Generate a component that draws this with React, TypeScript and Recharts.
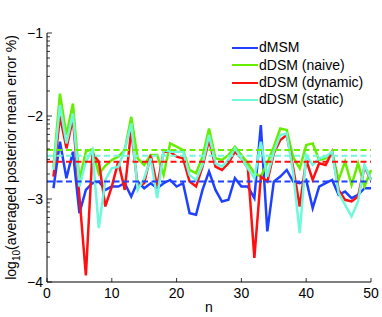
import { LineChart, Line, XAxis, YAxis, ReferenceLine } from "recharts";

const nValues = [
  1, 2, 3, 4, 5, 6, 7, 8, 9, 10, 11, 12, 13, 14, 15, 16, 17, 18, 19, 20, 21, 22, 23, 24, 25,
  26, 27, 28, 29, 30, 31, 32, 33, 34, 35, 36, 37, 38, 39, 40, 41, 42, 43, 44, 45, 46, 47, 48, 49, 50,
];

const dMSM = [
  -2.87, -2.31, -2.75, -2.43, -3.17, -2.89, -2.81, -2.79, -2.89, -2.85,
  -2.85, -2.81, -2.97, -2.79, -2.87, -2.81, -2.87, -2.81, -2.77, -2.85,
  -2.81, -3.17, -3.19, -2.89, -2.67, -2.89, -3.03, -3.01, -2.75, -2.85,
  -2.85, -2.99, -2.11, -3.39, -2.79, -2.73, -2.65, -2.79, -2.81, -2.77,
  -3.11, -2.85, -2.81, -2.77, -2.95, -2.91, -2.99, -2.95, -2.87, -2.87,
];

const dDSMNaive = [
  -2.62, -1.73, -2.23, -1.85, -2.77, -2.43, -2.4, -2.7, -2.6, -2.53,
  -2.49, -2.41, -2.01, -2.51, -2.59, -2.47, -2.47, -2.71, -2.33, -2.37,
  -2.41, -2.65, -2.69, -2.49, -2.15, -2.51, -2.53, -2.47, -2.37, -2.47,
  -2.57, -2.69, -2.73, -2.57, -2.37, -2.15, -2.17, -2.5, -2.63, -2.35,
  -2.33, -2.53, -2.51, -2.43, -2.77, -2.55, -2.83, -2.57, -2.85, -2.65,
];

const dDSMDynamic = [
  -2.73, -2.0, -2.39, -2.03, -2.97, -3.92, -2.45, -2.55, -3.09, -2.85,
  -2.55, -2.89, -2.17, -2.85, -2.81, -2.47, -2.85, -2.43, -2.43, -2.49,
  -2.51, -2.79, -2.85, -2.61, -2.29, -2.61, -2.65, -2.57, -2.43, -2.51,
  -2.63, -3.71, -2.73, -2.79, -2.45, -2.29, -2.23, -2.63, -3.09, -2.53,
  -2.77, -2.57, -2.59, -2.43, -2.89, -3.01, -3.03, -2.97, -2.61, -2.77,
];

const dDSMStatic = [
  -2.65, -1.87, -2.33, -1.97, -2.85, -2.55, -2.41, -3.35, -2.77, -2.63,
  -2.61, -2.41, -2.09, -2.89, -2.75, -2.51, -2.99, -2.41, -2.43, -2.43,
  -2.43, -2.71, -2.77, -2.59, -2.23, -2.57, -2.61, -2.53, -2.39, -2.51,
  -2.63, -2.75, -2.31, -2.73, -2.43, -2.23, -2.21, -2.69, -3.41, -2.47,
  -2.59, -2.51, -2.49, -2.43, -2.93, -3.07, -3.21, -3.03, -2.59, -2.77,
];

const seriesKeys = ["dMSM", "naive", "dynamic", "static"];
const seriesNames = ["dMSM", "dDSM (naive)", "dDSM (dynamic)", "dDSM (static)"];
const meanValues = [-2.79, -2.41, -2.55, -2.48];

const xTicks = [0, 10, 20, 30, 40, 50];
const yMajorTicks = [-4, -3, -2, -1];

const colors = ["#2040ff", "#66ee00", "#ff1010", "#70f8dc"];
const font = "'Liberation Sans', Arial, Helvetica, sans-serif";

// minor ticks of the log axis, one decade at a time
const yMinorTicks = [-4, -3, -2].flatMap((d) =>
  [2, 3, 4, 5, 6, 7, 8, 9].map((k) => d + Math.log10(k))
);
const yTicks = [...yMajorTicks, ...yMinorTicks];

const data = nValues.map((n, i) => ({
  n,
  dMSM: dMSM[i],
  naive: dDSMNaive[i],
  dynamic: dDSMDynamic[i],
  static: dDSMStatic[i],
}));

const fmt = (v: number) => (v < 0 ? "\u2212" + Math.abs(v) : String(v));

function LeftTick(props: any) {
  const { x, y, payload } = props;
  const major = Number.isInteger(payload.value);
  return (
    <g>
      <line x1={x} x2={x + (major ? 5 : 3)} y1={y} y2={y} stroke="#000" strokeWidth={0.8} />
      {major && (
        <text x={x - 4} y={y + 5} textAnchor="end" fontSize={14} fontFamily={font} fill="#000">
          {fmt(payload.value)}
        </text>
      )}
    </g>
  );
}

function RightTick(props: any) {
  const { x, y, payload } = props;
  const major = Number.isInteger(payload.value);
  return <line x1={x} x2={x - (major ? 5 : 3)} y1={y} y2={y} stroke="#000" strokeWidth={0.8} />;
}

function BottomTick(props: any) {
  const { x, y, payload } = props;
  return (
    <g>
      <line x1={x} x2={x} y1={y} y2={y - 4} stroke="#000" strokeWidth={0.8} />
      <text x={x} y={y + 16} textAnchor="middle" fontSize={14} fontFamily={font} fill="#000">
        {payload.value}
      </text>
    </g>
  );
}

function TopTick(props: any) {
  const { x, y } = props;
  return <line x1={x} x2={x} y1={y} y2={y + 4} stroke="#000" strokeWidth={0.8} />;
}

function ChartLegend() {
  return (
    <div
      style={{
        position: "absolute",
        left: 232,
        top: 39.4,
        fontFamily: font,
        fontSize: 14,
        color: "#000",
        lineHeight: "17.3px",
      }}
    >
      {seriesNames.map((name, i) => (
        <div key={name} style={{ display: "flex", alignItems: "center", height: 17.3 }}>
          <svg width={26} height={4} style={{ marginRight: 1 }}>
            <line x1={0} x2={26} y1={2} y2={2} stroke={colors[i]} strokeWidth={2} />
          </svg>
          <span>{name}</span>
        </div>
      ))}
    </div>
  );
}

function App() {
  return (
    <div style={{ position: "absolute", left: 0, top: 0, width: 382, height: 317, background: "#fff" }}>
      <LineChart width={382} height={317} data={data} margin={{ top: 33, right: 11, bottom: 0, left: 0 }}>
        <XAxis
          dataKey="n"
          type="number"
          domain={[0, 50]}
          ticks={xTicks}
          interval={0}
          height={35}
          tickSize={0}
          tickMargin={0}
          tickLine={false}
          axisLine={{ stroke: "#000" }}
          tick={<BottomTick />}
          label={{ value: "n", position: "insideBottom", offset: 5, fontSize: 14, fontFamily: font, fill: "#000" }}
        />
        <XAxis
          xAxisId="top"
          dataKey="n"
          type="number"
          orientation="top"
          domain={[0, 50]}
          ticks={xTicks}
          interval={0}
          height={0}
          tickSize={0}
          tickMargin={0}
          tickLine={false}
          axisLine={{ stroke: "#000" }}
          tick={<TopTick />}
          label={() => (
            <text x={209} y={21} textAnchor="middle" fontSize={14} fontFamily={font} fill="#000">
              {"\u03b5=10"}
              <tspan dy={-6} fontSize={10}>2</tspan>
            </text>
          )}
        />
        <YAxis
          yAxisId="left"
          type="number"
          domain={[-4, -1]}
          ticks={yTicks}
          interval={0}
          width={47}
          tickSize={0}
          tickMargin={0}
          tickLine={false}
          axisLine={{ stroke: "#000" }}
          tick={<LeftTick />}
          allowDataOverflow
          label={() => (
            <text
              transform="translate(16,157.5) rotate(-90)"
              textAnchor="middle"
              fontSize={14}
              fontFamily={font}
              fill="#000"
            >
              log
              <tspan dy={4} fontSize={10}>10</tspan>
              <tspan dy={-4}>(averaged posterior mean error %)</tspan>
            </text>
          )}
        />
        <YAxis
          yAxisId="right"
          orientation="right"
          type="number"
          domain={[-4, -1]}
          ticks={yTicks}
          interval={0}
          width={0}
          tickSize={0}
          tickMargin={0}
          tickLine={false}
          axisLine={{ stroke: "#000" }}
          tick={<RightTick />}
        />
        {seriesKeys.map((k, i) => (
          <Line
            key={k}
            yAxisId="left"
            dataKey={k}
            name={seriesNames[i]}
            type="linear"
            stroke={colors[i]}
            strokeWidth={2.5}
            dot={false}
            isAnimationActive={false}
          />
        ))}
        {meanValues.map((m, i) => (
          <ReferenceLine
            key={seriesKeys[i]}
            yAxisId="left"
            y={m}
            stroke={colors[i]}
            strokeWidth={2}
            strokeDasharray="6 3.5"
          />
        ))}
      </LineChart>
      <ChartLegend />
    </div>
  );
}

export default App;
